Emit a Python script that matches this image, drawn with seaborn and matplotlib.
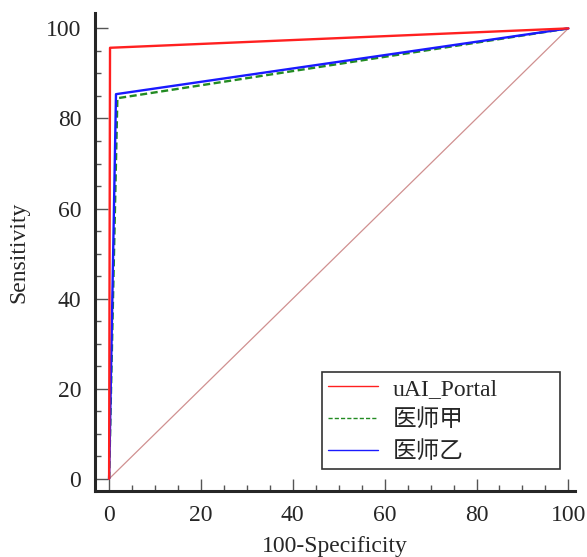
import numpy as np
import pandas as pd
import seaborn as sns
import matplotlib.pyplot as plt
from matplotlib.ticker import MultipleLocator

# ROC points (100-Specificity, Sensitivity)
ai_x = [0, 0.2, 100]
ai_y = [0, 95.7, 100]
doc_a_x = [0, 1.8, 100]
doc_a_y = [0, 84.5, 100]
doc_b_x = [0, 1.5, 100]
doc_b_y = [0, 85.4, 100]
ref_x = [0, 100]
ref_y = [0, 100]

series_names = ["uAI_Portal", "医师甲", "医师乙"]

sns.set_style("ticks")
plt.rcParams['font.family'] = ['Liberation Serif', 'Noto Sans CJK SC']

df = pd.concat([
    pd.DataFrame({"x": ai_x, "y": ai_y, "name": series_names[0]}),
    pd.DataFrame({"x": doc_a_x, "y": doc_a_y, "name": series_names[1]}),
    pd.DataFrame({"x": doc_b_x, "y": doc_b_y, "name": series_names[2]}),
])

fig = plt.figure(figsize=(5.87, 5.57), dpi=100)
ax = fig.add_axes([0.162, 0.1185, 0.818, 0.858])

# chance line
ax.plot(ref_x, ref_y, color="#d09090", lw=0.9, zorder=1)

colors = {"uAI_Portal": "#ff2020", "医师甲": "#228b22", "医师乙": "#1a1aff"}
styles = {"uAI_Portal": "", "医师甲": (3, 1.5), "医师乙": ""}
sns.lineplot(data=df, x="x", y="y", hue="name", style="name",
             palette=colors, dashes=styles, sort=False, estimator=None,
             lw=1.7, ax=ax, hue_order=["医师甲", "医师乙", "uAI_Portal"],
             style_order=["医师甲", "医师乙", "uAI_Portal"])

ax.set_xlim(-3.05, 101.5)
ax.set_ylim(-2.7, 103.4)
ax.xaxis.set_major_locator(MultipleLocator(20))
ax.xaxis.set_minor_locator(MultipleLocator(5))
ax.yaxis.set_major_locator(MultipleLocator(20))
ax.yaxis.set_minor_locator(MultipleLocator(5))
ax.tick_params(which="major", direction="in", length=9, width=1, color="#555555",
               labelsize=17, pad=10)
ax.tick_params(which="minor", direction="in", length=4.5, width=1, color="#555555")

for side in ["top", "right"]:
    ax.spines[side].set_visible(False)
ax.spines["left"].set_linewidth(2.2)
ax.spines["bottom"].set_linewidth(2.2)

ax.set_xlabel("100-Specificity", fontsize=17, labelpad=7)
ax.set_ylabel("Sensitivity", fontsize=17, labelpad=12)

handles, labels = ax.get_legend_handles_labels()
order = [labels.index(n) for n in series_names]
leg = ax.legend([handles[i] for i in order], [labels[i] for i in order],
                loc="lower left", bbox_to_anchor=(0.473, 0.046, 0.496, 0.2),
                mode="expand", fontsize=17, frameon=True, fancybox=False,
                edgecolor="black", handlelength=2.1, borderpad=0.25,
                labelspacing=0.42, handletextpad=0.65, borderaxespad=0)
leg.get_frame().set_linewidth(1.2)
for line in leg.get_lines():
    line.set_linewidth(1.0)

fig.savefig("out.png", dpi=100)
